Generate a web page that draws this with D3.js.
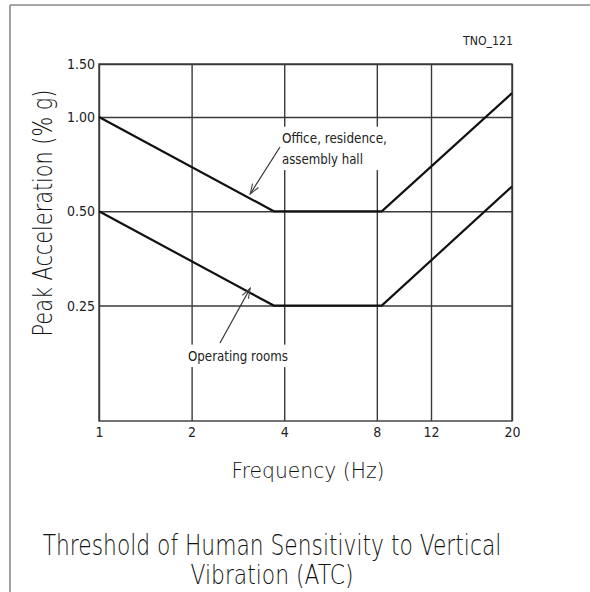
<!DOCTYPE html>
<html>
<head>
<meta charset="utf-8">
<script src="https://cdn.jsdelivr.net/npm/d3@7/dist/d3.min.js"></script>
<style>
  html, body { margin: 0; padding: 0; background: #fff; }
  svg { display: block; }
  text { font-family: "Liberation Sans Narrow", "DejaVu Sans Condensed", "DejaVu Sans", sans-serif; fill: #222; }
  .thin { font-family: "DejaVu Sans", sans-serif; font-weight: 200; fill: #111; }
</style>
</head>
<body>
<svg id="chart" width="590" height="592"></svg>
<script>
// ---- data ----
const freqTicks = [1, 2, 4, 8, 12, 20];
const freqTickLabels = ["1", "2", "4", "8", "12", "20"];
const accelTicks = [0.25, 0.5, 1.0, 1.5];
const accelTickLabels = ["0.25", "0.50", "1.00", "1.50"];
const accelMin = 0.107;   // bottom of the y axis

const officeFreq = [1, 3.7, 8.3, 20];
const officeAccel = [1.0, 0.5, 0.5, 1.2];
const orFreq = [1, 3.7, 8.3, 20];
const orAccel = [0.5, 0.25, 0.25, 0.6];

const officeLabel = ["Office, residence,", "assembly hall"];
const orLabel = ["Operating rooms"];
const arrowFreq = 3.1;    // where the annotation arrows touch the curves

// ---- layout ----
const svg = d3.select("#chart");
const L = 99, R = 512, T = 64, B = 421;
const FONT = '"Liberation Sans Narrow", "DejaVu Sans Condensed", sans-serif';

const x = d3.scaleLog().domain([1, 12, 20]).range([L, 431, R]);
const y = d3.scaleLog().domain([accelMin, 1.0, 1.5]).range([B, 117, T]);

// text squeezed horizontally to a target width (anchor: start | middle)
function fitText(parent, str, cx, cy, size, width, anchor, cls, rotate) {
  const t = parent.append("text").attr("font-size", size)
    .attr("text-anchor", anchor).attr("x", 0).attr("y", 0).text(str);
  if (cls) t.attr("class", cls);
  const w = t.node().getComputedTextLength();
  const k = width / w;
  t.attr("transform", `translate(${cx},${cy})${rotate ? ` rotate(${rotate})` : ""} scale(${k},1)`);
  return t;
}

// outer frame (partially visible)
svg.append("line").attr("x1", 10).attr("x2", 590).attr("y1", 5).attr("y2", 5)
  .attr("stroke", "#8a8a8a").attr("stroke-width", 1.6);
svg.append("line").attr("x1", 10).attr("x2", 10).attr("y1", 5).attr("y2", 592)
  .attr("stroke", "#8a8a8a").attr("stroke-width", 1.6);

const gridColor = "#3a3a3a";

// x grid + labels
const xAxis = svg.append("g").attr("transform", `translate(0,${B})`)
  .call(d3.axisBottom(x).tickValues(freqTicks)
    .tickFormat((d, i) => freqTickLabels[i])
    .tickSize(-(B - T)).tickPadding(6));
xAxis.select(".domain").remove();
xAxis.selectAll(".tick line").attr("stroke", gridColor).attr("stroke-width", 1.4);
xAxis.selectAll(".tick text").attr("font-size", 14).attr("fill", "#1a1a1a")
  .style("font-family", FONT);

// y grid + labels
const yAxis = svg.append("g").attr("transform", `translate(${L},0)`)
  .call(d3.axisLeft(y).tickValues(accelTicks)
    .tickFormat((d, i) => accelTickLabels[i])
    .tickSize(-(R - L)).tickPadding(4));
yAxis.select(".domain").remove();
yAxis.selectAll(".tick line").attr("stroke", gridColor).attr("stroke-width", 1.4);
yAxis.selectAll(".tick text").attr("font-size", 14).attr("fill", "#1a1a1a")
  .style("font-family", FONT);

// plot frame
svg.append("rect").attr("x", L).attr("y", T).attr("width", R - L).attr("height", B - T)
  .attr("fill", "none").attr("stroke", gridColor).attr("stroke-width", 1.4);

// ---- annotation masks & text ----
function annotate(lines, tx, ty, fontSize, lineGap, widths) {
  const g = svg.append("g");
  lines.forEach((s, i) => fitText(g, s, tx, ty + i * lineGap, fontSize, widths[i], "start"));
  const bb = g.node().getBBox();
  g.insert("rect", "text").attr("x", bb.x - 4).attr("y", bb.y - 3)
    .attr("width", bb.width + 8).attr("height", bb.height + 6).attr("fill", "#fff");
}
annotate(officeLabel, 282, 143, 14, 21, [105, 81]);
annotate(orLabel, 188, 361, 14, 21, [100]);

// ---- curves ----
const line = d3.line().x(d => x(d[0])).y(d => y(d[1]));
svg.append("path").datum(d3.zip(officeFreq, officeAccel))
  .attr("d", line).attr("fill", "none").attr("stroke", "#111").attr("stroke-width", 2.2);
svg.append("path").datum(d3.zip(orFreq, orAccel))
  .attr("d", line).attr("fill", "none").attr("stroke", "#111").attr("stroke-width", 2.2);

// ---- arrows ----
svg.append("defs").append("marker").attr("id", "arr")
  .attr("viewBox", "0 0 12 10").attr("refX", 11).attr("refY", 5)
  .attr("markerWidth", 12).attr("markerHeight", 10).attr("markerUnits", "userSpaceOnUse")
  .attr("orient", "auto")
  .append("path").attr("d", "M1,1.5 L11,5 L1,8.5").attr("fill", "none")
  .attr("stroke", "#444").attr("stroke-width", 1.1);

const officeTip = d3.scaleLog().domain([1, 3.7]).range([officeAccel[0], officeAccel[1]])(arrowFreq);
const orTip = d3.scaleLog().domain([1, 3.7]).range([orAccel[0], orAccel[1]])(arrowFreq);

svg.append("line").attr("x1", 280).attr("y1", 147)
  .attr("x2", x(arrowFreq)).attr("y2", y(officeTip))
  .attr("stroke", "#333").attr("stroke-width", 1.2).attr("marker-end", "url(#arr)");
svg.append("line").attr("x1", 220).attr("y1", 343)
  .attr("x2", x(arrowFreq)).attr("y2", y(orTip))
  .attr("stroke", "#333").attr("stroke-width", 1.2).attr("marker-end", "url(#arr)");

// ---- labels ----
fitText(svg, "TNO_121", 463, 45, 12, 50, "start");
fitText(svg, "Frequency (Hz)", 308, 478, 22, 153, "middle", "thin");
fitText(svg, "Peak Acceleration (% g)", 52, 213, 27, 247, "middle", "thin", -90);
fitText(svg, "Threshold of Human Sensitivity to Vertical", 272, 555, 28, 459, "middle", "thin");
fitText(svg, "Vibration (ATC)", 272, 584, 27, 163, "middle", "thin");
</script>
</body>
</html>
